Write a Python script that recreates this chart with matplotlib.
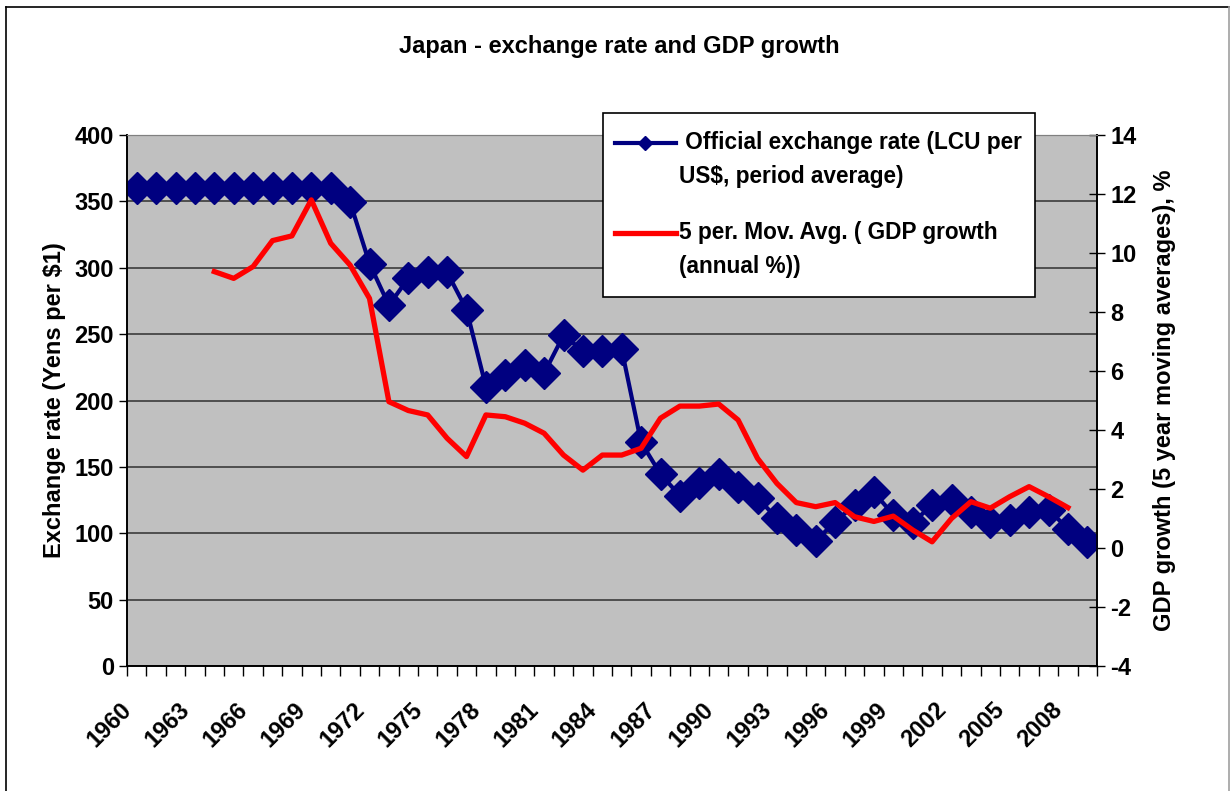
import numpy as np
import matplotlib
matplotlib.use("Agg")
import matplotlib.pyplot as plt
from matplotlib.lines import Line2D
from matplotlib.patches import Rectangle
from matplotlib.transforms import ScaledTranslation

years = list(range(1960, 2010))
exchange_rate = [360, 360, 360, 360, 360, 360, 360, 360, 360, 360,
                 360, 349.3, 303.2, 271.7, 292.1, 296.8, 296.6, 268.5, 210.4, 219.1,
                 226.7, 220.5, 249.1, 237.5, 237.5, 238.5, 168.5, 144.6, 128.2, 138.0,
                 144.8, 134.7, 126.7, 111.2, 102.2, 94.1, 108.8, 121.0, 130.9, 113.9,
                 107.8, 121.5, 125.4, 115.9, 108.2, 110.2, 116.3, 117.8, 103.4, 93.6]
gdp_years = list(range(1964, 2009))
gdp_ma5 = [9.37, 9.14, 9.54, 10.42, 10.58, 11.8, 10.33, 9.59, 8.46, 4.96,
           4.66, 4.51, 3.72, 3.10, 4.51, 4.45, 4.23, 3.89, 3.15, 2.64,
           3.15, 3.15, 3.38, 4.40, 4.81, 4.81, 4.88, 4.34, 3.04, 2.19,
           1.54, 1.40, 1.54, 1.06, 0.90, 1.08, 0.61, 0.21, 1.00, 1.57,
           1.35, 1.74, 2.08, 1.74, 1.37]
label_years = list(range(1960, 2009, 3))

plt.rcParams["font.family"] = ["Liberation Sans", "DejaVu Sans"]
plt.rcParams["font.weight"] = "bold"
plt.rcParams["axes.unicode_minus"] = False

W, H = 1231, 791
fig = plt.figure(figsize=(W / 100, H / 100), dpi=100)
ax = fig.add_axes([127 / W, 1 - 666 / H, 970 / W, 531 / H])
ax.set_facecolor("#c0c0c0")

x = np.array([y - 1960 for y in years])
xg = np.array([y - 1960 for y in gdp_years])

ax.set_ylim(0, 400)
ax.set_yticks(range(0, 401, 50))
ax.grid(axis="y", color="#303030", lw=1.1)
ax.set_axisbelow(True)

ax.set_xticks([])
ax.set_xticks(np.arange(-0.5, len(years), 1), minor=True)
ax.set_xlim(-0.5, len(years) - 0.5)

# year labels sit a little left of the category centre, as in Excel
lab_shift = ax.get_xaxis_transform() + ScaledTranslation(-17 / 100, -32 / 100,
                                                          fig.dpi_scale_trans)
for yr in label_years:
    ax.text(yr - 1960, 0, str(yr), transform=lab_shift, rotation=45,
            rotation_mode="anchor", ha="right", va="top", fontsize=17,
            fontweight="bold", clip_on=False)

ax2 = ax.twinx()
ax2.set_ylim(-4, 14)
ax2.set_yticks(range(-4, 15, 2))

# exchange rate drawn on the left scale, growth on the right one
ax2.plot(x, [(v / 400) * 18 - 4 for v in exchange_rate], color="#000080", lw=3,
         marker="D", markersize=16, zorder=2)
ax2.plot(xg, gdp_ma5, color="#ff0000", lw=3.8, zorder=3)
ax2.set_xlim(-0.5, len(years) - 0.5)

ax.tick_params(axis="x", which="minor", length=7, width=1, direction="out")
ax.tick_params(axis="y", labelsize=17, length=6, width=1, direction="out")
ax2.tick_params(axis="y", labelsize=17, length=12, width=1, direction="inout")

for a in (ax, ax2):
    for s in ("left", "right", "bottom"):
        a.spines[s].set_color("black")
        a.spines[s].set_linewidth(1.2)
    a.spines["top"].set_color("#808080")

ax.set_ylabel("Exchange rate (Yens per $1)", fontsize=17, fontweight="bold", labelpad=6)
ax2.set_ylabel("GDP growth (5 year moving averages), %", fontsize=17, fontweight="bold",
               labelpad=12)

fig.text(619 / W, 1 - 46 / H, "Japan - exchange rate and GDP growth",
         ha="center", va="center", fontsize=17, fontweight="bold")

# legend box, built by hand so each key sits on the first text line
fig.patches.append(Rectangle((603 / W, 1 - 297 / H), 432 / W, 184 / H,
                             transform=fig.transFigure, facecolor="white",
                             edgecolor="black", lw=1.2, zorder=10))
fig.lines.append(Line2D([615 / W, 676 / W], [1 - 143 / H] * 2, transform=fig.transFigure,
                        color="#000080", lw=3, zorder=11))
fig.lines.append(Line2D([645 / W], [1 - 143 / H], transform=fig.transFigure,
                        color="#000080", marker="D", markersize=7, zorder=11))
fig.lines.append(Line2D([615 / W, 676 / W], [1 - 233 / H] * 2, transform=fig.transFigure,
                        color="#ff0000", lw=3.8, zorder=11))
legend_text = [(" Official exchange rate (LCU per", 143), ("US$, period average)", 176),
               ("5 per. Mov. Avg. ( GDP growth", 233), ("(annual %))", 266)]
for txt, yy in legend_text:
    t = fig.text(679 / W, 1 - yy / H, txt, ha="left", va="center", fontsize=16.3,
                 fontweight="bold")
    t.set_zorder(12)

# outer chart border
fig.lines.append(Line2D([6 / W, 6 / W], [0, 1 - 7 / H], transform=fig.transFigure,
                        color="black", lw=1.2))
fig.lines.append(Line2D([6 / W, 1229 / W], [1 - 7 / H] * 2, transform=fig.transFigure,
                        color="black", lw=1.2))
fig.lines.append(Line2D([1229 / W, 1229 / W], [0, 1 - 7 / H], transform=fig.transFigure,
                        color="#a0a0a0", lw=1.2))

fig.savefig("out.png", dpi=100)
